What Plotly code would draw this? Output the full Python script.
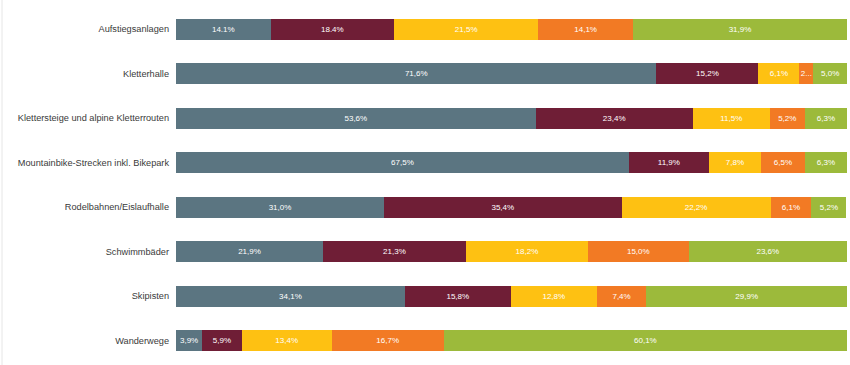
import plotly.graph_objects as go

categories = ["Aufstiegsanlagen", "Kletterhalle", "Klettersteige und alpine Kletterrouten",
              "Mountainbike-Strecken inkl. Bikepark", "Rodelbahnen/Eislaufhalle",
              "Schwimmbäder", "Skipisten", "Wanderwege"]

s1 = [14.1, 71.6, 53.6, 67.5, 31.0, 21.9, 34.1, 3.9]
s2 = [18.4, 15.2, 23.4, 11.9, 35.4, 21.3, 15.8, 5.9]
s3 = [21.5, 6.1, 11.5, 7.8, 22.2, 18.2, 12.8, 13.4]
s4 = [14.1, 2.1, 5.2, 6.5, 6.1, 15.0, 7.4, 16.7]
s5 = [31.9, 5.0, 6.3, 6.3, 5.2, 23.6, 29.9, 60.1]

t1 = ["14.1%", "71,6%", "53,6%", "67,5%", "31,0%", "21,9%", "34,1%", "3,9%"]
t2 = ["18.4%", "15,2%", "23,4%", "11,9%", "35,4%", "21,3%", "15,8%", "5,9%"]
t3 = ["21,5%", "6,1%", "11,5%", "7,8%", "22,2%", "18,2%", "12,8%", "13,4%"]
t4 = ["14,1%", "2...", "5,2%", "6,5%", "6,1%", "15,0%", "7,4%", "16,7%"]
t5 = ["31,9%", "5,0%", "6,3%", "6,3%", "5,2%", "23,6%", "29,9%", "60,1%"]

colors = ["#5b7581", "#6f1e36", "#fec112", "#f27a24", "#9cba3b"]

fig = go.Figure()
for vals, txt, col in zip([s1, s2, s3, s4, s5], [t1, t2, t3, t4, t5], colors):
    fig.add_trace(go.Bar(
        y=categories, x=vals, orientation="h", text=txt,
        textposition="inside", insidetextanchor="middle", textangle=0,
        textfont=dict(color="white", size=8, family="Liberation Sans, Arial"),
        marker=dict(color=col, line=dict(width=0)),
        constraintext="none", cliponaxis=False, showlegend=False,
        hoverinfo="x+y",
    ))

fig.update_layout(
    barmode="stack", bargap=0.53,
    width=850, height=365,
    margin=dict(l=176, r=3, t=7, b=2),
    paper_bgcolor="white", plot_bgcolor="white",
    font=dict(family="Liberation Sans, Arial", size=9.2, color="#3a3a3a"),
    uniformtext=dict(minsize=8, mode="show"),
    xaxis=dict(range=[0, 100], visible=False, showgrid=False, zeroline=False),
    yaxis=dict(autorange="reversed", showgrid=False, zeroline=False, showline=False,
               ticks="", ticklabelstandoff=6, automargin=False,
               tickfont=dict(size=9.2, color="#3a3a3a")),
    shapes=[dict(type="line", xref="paper", yref="paper",
                 x0=(2 - 176) / 671, x1=(2 - 176) / 671, y0=-0.01, y1=1.02,
                 line=dict(color="#e6e6e6", width=1))],
)

fig.write_html("out.html", config={"displayModeBar": False},
               post_script="document.body.style.margin='0';document.body.style.overflow='hidden';")
